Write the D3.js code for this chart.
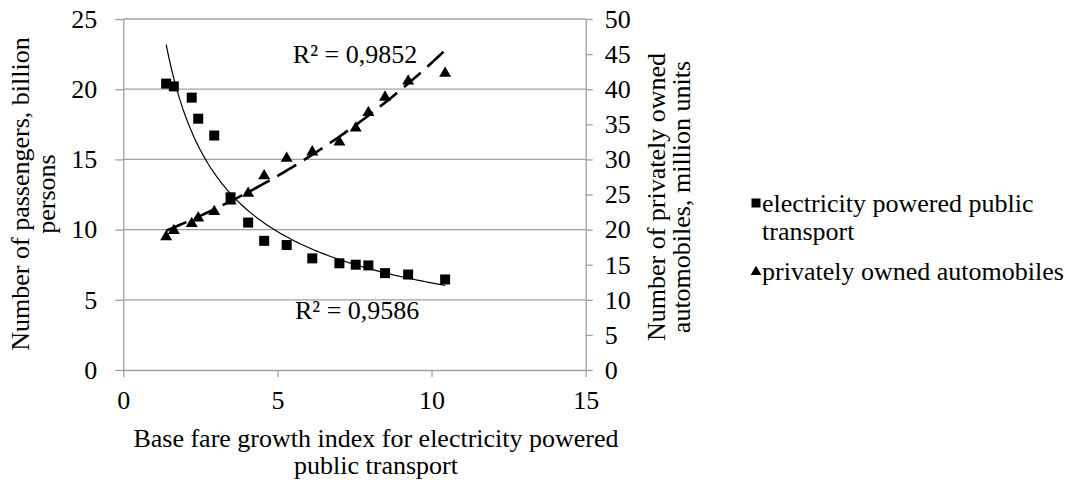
<!DOCTYPE html>
<html>
<head>
<meta charset="utf-8">
<script src="https://cdn.jsdelivr.net/npm/d3@7/dist/d3.min.js"></script>
<style>
  body { margin: 0; background: #fff; }
  svg text { font-family: "Liberation Serif", "Times New Roman", Tinos, Times, "DejaVu Serif", serif; fill: #000; }
</style>
</head>
<body>
<div id="chart"></div>
<script>
// Data
const fareIndex = [1.39, 1.64, 2.22, 2.43, 2.95, 3.48, 4.05, 4.57, 5.30, 6.13, 7.01, 7.54, 7.95, 8.49, 9.24, 10.44];
const passengers = [20.4, 20.2, 19.4, 17.9, 16.7, 12.3, 10.5, 9.2, 8.9, 7.95, 7.6, 7.5, 7.45, 6.9, 6.8, 6.45];
const automobiles = [19.1, 20.0, 21.0, 21.8, 22.7, 24.2, 25.3, 27.8, 30.3, 31.2, 32.6, 34.6, 36.8, 39.0, 41.3, 42.4];

const xTicks = [0, 5, 10, 15];
const leftTicks = [0, 5, 10, 15, 20, 25];
const rightTicks = [0, 5, 10, 15, 20, 25, 30, 35, 40, 45, 50];

const r2Passengers = "R² = 0,9586";
const r2Automobiles = "R² = 0,9852";

const W = 1086, H = 486;
const fs = 26;
const grey = "#a0a0a0";

const svg = d3.select("#chart").append("svg")
    .attr("width", W)
    .attr("height", H);

// Scales
const x = d3.scaleLinear().domain([0, 15]).range([123.3, 585.7]);
const yL = d3.scaleLinear().domain([0, 25]).range([370, 19]);
const yR = d3.scaleLinear().domain([0, 50]).range([370, 19]);

// Gridlines
svg.append("g").selectAll("line").data(leftTicks.filter(d => d > 0)).enter().append("line")
    .attr("x1", x(0)).attr("x2", x(15))
    .attr("y1", d => yL(d)).attr("y2", d => yL(d))
    .attr("stroke", grey).attr("stroke-width", 1.3);

// Axes
function styleAxis(g) {
    g.attr("font-family", null);
    g.selectAll("path, line").attr("stroke", grey).attr("stroke-width", 1.3);
    g.selectAll("text").attr("font-size", fs).attr("fill", "#000");
}

svg.append("g").attr("transform", `translate(0,${yL(0)})`)
    .call(d3.axisBottom(x).tickValues(xTicks).tickSize(7).tickPadding(14).tickSizeOuter(0))
    .call(styleAxis);

svg.append("g").attr("transform", `translate(${x(0)},0)`)
    .call(d3.axisLeft(yL).tickValues(leftTicks).tickSize(8).tickPadding(18).tickSizeOuter(0))
    .call(styleAxis);

svg.append("g").attr("transform", `translate(${x(15)},0)`)
    .call(d3.axisRight(yR).tickValues(rightTicks).tickSize(7).tickPadding(12).tickSizeOuter(0))
    .call(styleAxis);

// Trendlines fitted from the points (power for passengers, exponential for automobiles)
function fitPower(xs, ys) {
    const lx = xs.map(Math.log), ly = ys.map(Math.log);
    const mx = d3.mean(lx), my = d3.mean(ly);
    const b = d3.sum(lx, (v, i) => (v - mx) * (ly[i] - my)) / d3.sum(lx, v => (v - mx) ** 2);
    const a = Math.exp(my - b * mx);
    return t => a * Math.pow(t, b);
}
function fitExp(xs, ys) {
    const ly = ys.map(Math.log);
    const mx = d3.mean(xs), my = d3.mean(ly);
    const k = d3.sum(xs, (v, i) => (v - mx) * (ly[i] - my)) / d3.sum(xs, v => (v - mx) ** 2);
    const a = Math.exp(my - k * mx);
    return t => a * Math.exp(k * t);
}

const powerFn = fitPower(fareIndex, passengers);
const expFn = fitExp(fareIndex, automobiles);
const xs = d3.range(0, 101).map(i => fareIndex[0] + (fareIndex[fareIndex.length - 1] - fareIndex[0]) * i / 100);

svg.append("path")
    .datum(xs)
    .attr("fill", "none").attr("stroke", "#000").attr("stroke-width", 1.2)
    .attr("d", d3.line().x(d => x(d)).y(d => yL(powerFn(d))));

svg.append("path")
    .datum(xs)
    .attr("fill", "none").attr("stroke", "#000").attr("stroke-width", 2.6)
    .attr("stroke-dasharray", "22,9")
    .attr("d", d3.line().x(d => x(d)).y(d => yR(expFn(d))));

// Markers
const sq = 10;
svg.append("g").selectAll("rect").data(fareIndex).enter().append("rect")
    .attr("x", d => x(d) - sq / 2)
    .attr("y", (d, i) => yL(passengers[i]) - sq / 2)
    .attr("width", sq).attr("height", sq)
    .attr("fill", "#000");

const tri = d3.symbol().type(d3.symbolTriangle).size(62);
svg.append("g").selectAll("path").data(fareIndex).enter().append("path")
    .attr("d", tri)
    .attr("transform", (d, i) => `translate(${x(d)},${yR(automobiles[i]) + 1})`)
    .attr("fill", "#000");

// R² labels
svg.append("text").attr("x", x(5.5)).attr("y", yL(21.87)).attr("font-size", fs).text(r2Automobiles);
svg.append("text").attr("x", x(5.57)).attr("y", yL(3.6)).attr("font-size", fs).text(r2Passengers);

// Axis titles
const leftTitle = svg.append("text").attr("font-size", fs).attr("text-anchor", "middle")
    .attr("transform", "translate(29,194) rotate(-90)");
leftTitle.append("tspan").attr("x", 0).attr("y", 0).text("Number of passengers, billion");
leftTitle.append("tspan").attr("x", 0).attr("y", 26).text("persons");

const rightTitle = svg.append("text").attr("font-size", fs).attr("text-anchor", "middle")
    .attr("transform", "translate(665,197) rotate(-90)");
rightTitle.append("tspan").attr("x", 0).attr("y", 0).text("Number of privately owned");
rightTitle.append("tspan").attr("x", 0).attr("y", 25).text("automobiles, million units");

const xTitle = svg.append("text").attr("font-size", fs).attr("text-anchor", "middle");
xTitle.append("tspan").attr("x", 376).attr("y", 447).text("Base fare growth index for electricity powered");
xTitle.append("tspan").attr("x", 376).attr("y", 474).text("public transport");

// Legend
const legend = svg.append("g").attr("transform", "translate(756,0)");
legend.append("rect").attr("x", -4.5).attr("y", 198.5).attr("width", 9).attr("height", 9).attr("fill", "#000");
const l1 = legend.append("text").attr("font-size", fs);
l1.append("tspan").attr("x", 6).attr("y", 212).text("electricity powered public");
l1.append("tspan").attr("x", 6).attr("y", 240).text("transport");
legend.append("path").attr("d", d3.symbol().type(d3.symbolTriangle).size(50))
    .attr("transform", "translate(0,272)").attr("fill", "#000");
legend.append("text").attr("font-size", fs).attr("x", 6).attr("y", 280).text("privately owned automobiles");
</script>
</body>
</html>
